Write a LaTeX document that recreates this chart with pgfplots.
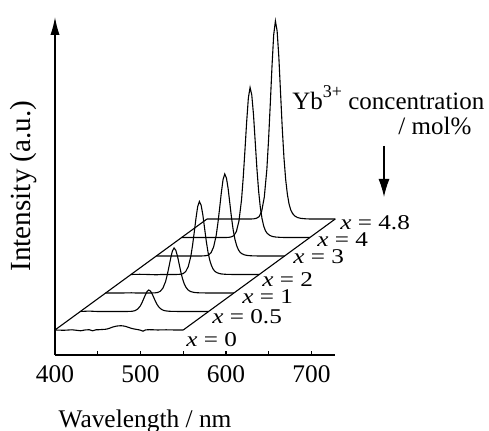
\documentclass[border=0pt]{standalone}
\usepackage{fontspec}
\setmainfont{Liberation Serif}
\usepackage{graphicx}
\usepackage{pgfplots}
\pgfplotsset{compat=1.18}
\usepackage{pgfplotstable}
\usetikzlibrary{arrows.meta}

% the x = ... labels are set wide in the reference
\newcommand{\st}[1]{\scalebox{1.2}[1]{\fontsize{10.5}{12}\selectfont #1}}
\newcommand{\lbl}{\fontsize{12.7}{15}\selectfont}
\tikzset{sp/.style={black, line width=0.55pt, mark=none},
         lab/.style={anchor=west, inner sep=0pt}}

% emission spectra, local wavelength (nm) and intensity (a.u.)
\pgfplotstableread{
wl  c0   c05   c1    c2    c3    c4    c48
400 0    0     0     0     0     0     0
410 -0.3 0.4   0     0.2   0     0     0
420 0.2  0     0     0     0     0     0
430 -0.8 0     0.2   -0.3  0     0     0
435 0    0     0     0     0     0     0
440 0.3  0     0     0     0     0     0
444 -0.8 0     0     0     0     0     0
448 0.2  0     0     0     0     0     0
452 0.3  0     0     0     0     0     0
455 0.5  0.02  0.05  0.07  0.08  0.15  0.2
458 0.6  0.09  0.18  0.29  0.33  0.6   0.79
461 1.0  0.26  0.54  0.88  0.98  1.8   2.38
464 1.8  0.86  1.8   2.92  3.28  6.0   7.92
467 2.8  2.37  4.95  8.03  9.02  16.5  21.78
470 3.5  5.38  11.25 18.25 20.5  37.5  49.5
472 3.9  8.6   18.0  29.2  32.8  60.0  79.2
474 4.1  12.47 26.1  42.34 47.56 87.0  114.84
476 4.2  16.56 34.65 56.21 63.14 115.5 152.46
478 4.2  20.0  41.85 67.89 76.26 139.5 184.14
480 4.0  21.5  45    73    82    150   198
482 3.7  20.43 42.75 69.35 77.9  142.5 188.1
484 3.2  17.63 36.9  59.86 67.24 123.0 162.36
486 2.6  13.76 28.8  46.72 52.48 96.0  126.72
488 2.0  9.89  20.7  33.58 37.72 69.0  91.08
490 1.5  6.67  13.95 22.63 25.42 46.5  61.38
492 1.1  4.3   9.0   14.6  16.4  30.0  39.6
494 0.8  2.69  5.63  9.13  10.25 18.75 24.75
496 0.5  1.61  3.38  5.48  6.15  11.25 14.85
498 0.2  0.97  2.03  3.29  3.69  6.75  8.91
500 -0.2 0.6   1.26  2.04  2.3   4.2   5.54
503 -1.2 0.3   0.63  1.02  1.15  2.1   2.77
506 0.1  0.15  0.32  0.51  0.57  1.05  1.39
510 0.3  0.06  0.14  0.22  0.25  0.45  0.59
515 0.2  0.02  0.05  0.07  0.08  0.15  0.2
520 0    0     0     0     0     0     0
530 0.2  0     0     0     0     0     0
540 0    0     0     0     0     0     0
550 0    0     0     0     0     0     0
}\spec

\begin{document}
\begin{tikzpicture}
\useasboundingbox (-27.5pt,-38pt) rectangle (217pt,177.5pt);
\begin{axis}[at={(0,0)}, anchor=south west,
    x=0.4275pt, y=0.5pt, xmin=400, xmax=728, ymin=0, ymax=338,
    axis x line=bottom, axis y line=left, clip=false,
    axis line style={line width=0.7pt},
    x axis line style={-},
    y axis line style={-{Latex[length=9pt,width=4.6pt]}},
    xtick={400,500,600,700}, minor xtick={450,550,650}, ytick=\empty,
    xticklabels={400,500,600,700},
    tick align=inside, major tick length=2.2pt, minor tick length=2.2pt,
    tick style={line width=0.6pt, black},
    xticklabel style={font=\lbl, anchor=center, yshift=-9.5pt},
    xlabel={Wavelength / nm},
    xlabel style={font=\lbl, at={(axis description cs:0.321,-0.198)}, anchor=center},
    ylabel={Intensity (a.u.)},
    ylabel style={font=\fontsize{14.6}{17}\selectfont, at={(axis description cs:-0.114,0.5)}, anchor=center}]

\addplot[sp] table[x expr=\thisrow{wl}, y expr=\thisrow{c0}+25] {\spec};
\addplot[sp] table[x expr=\thisrow{wl}+29.63, y expr=\thisrow{c05}+43.5] {\spec};
\addplot[sp] table[x expr=\thisrow{wl}+59.26, y expr=\thisrow{c1}+62] {\spec};
\addplot[sp] table[x expr=\thisrow{wl}+88.89, y expr=\thisrow{c2}+80.5] {\spec};
\addplot[sp] table[x expr=\thisrow{wl}+118.52, y expr=\thisrow{c3}+99] {\spec};
\addplot[sp] table[x expr=\thisrow{wl}+148.15, y expr=\thisrow{c4}+117.5] {\spec};
\addplot[sp] table[x expr=\thisrow{wl}+177.78, y expr=\thisrow{c48}+136] {\spec};

% edges of the base plane
\addplot[sp] coordinates {(400,25) (577.78,136)};
\addplot[sp] coordinates {(550,25) (727.78,136)};

\node[lab] at (axis cs:553.2,15) {\st{\textit{x} = 0}};
\node[lab] at (axis cs:583.6,38) {\st{\textit{x} = 0.5}};
\node[lab] at (axis cs:618.7,58) {\st{\textit{x} = 1}};
\node[lab] at (axis cs:642.1,75) {\st{\textit{x} = 2}};
\node[lab] at (axis cs:678.4,98) {\st{\textit{x} = 3}};
\node[lab] at (axis cs:706.4,115) {\st{\textit{x} = 4}};
\node[lab] at (axis cs:733.3,132) {\st{\textit{x} = 4.8}};

\node[anchor=base west, inner sep=0pt, font=\fontsize{12.5}{15}\selectfont] at (axis cs:677.2,245)
  {Yb\raisebox{6.3pt}{\fontsize{9}{10}\selectfont 3+} concentration};
\node[anchor=base west, inner sep=0pt, font=\fontsize{12.5}{15}\selectfont] at (axis cs:801.2,220) {/ mol\%};
\draw[-{Latex[length=9pt,width=5.5pt]}, line width=0.6pt] (axis cs:784.8,209) -- (axis cs:784.8,158);
\end{axis}
\end{tikzpicture}
\end{document}
